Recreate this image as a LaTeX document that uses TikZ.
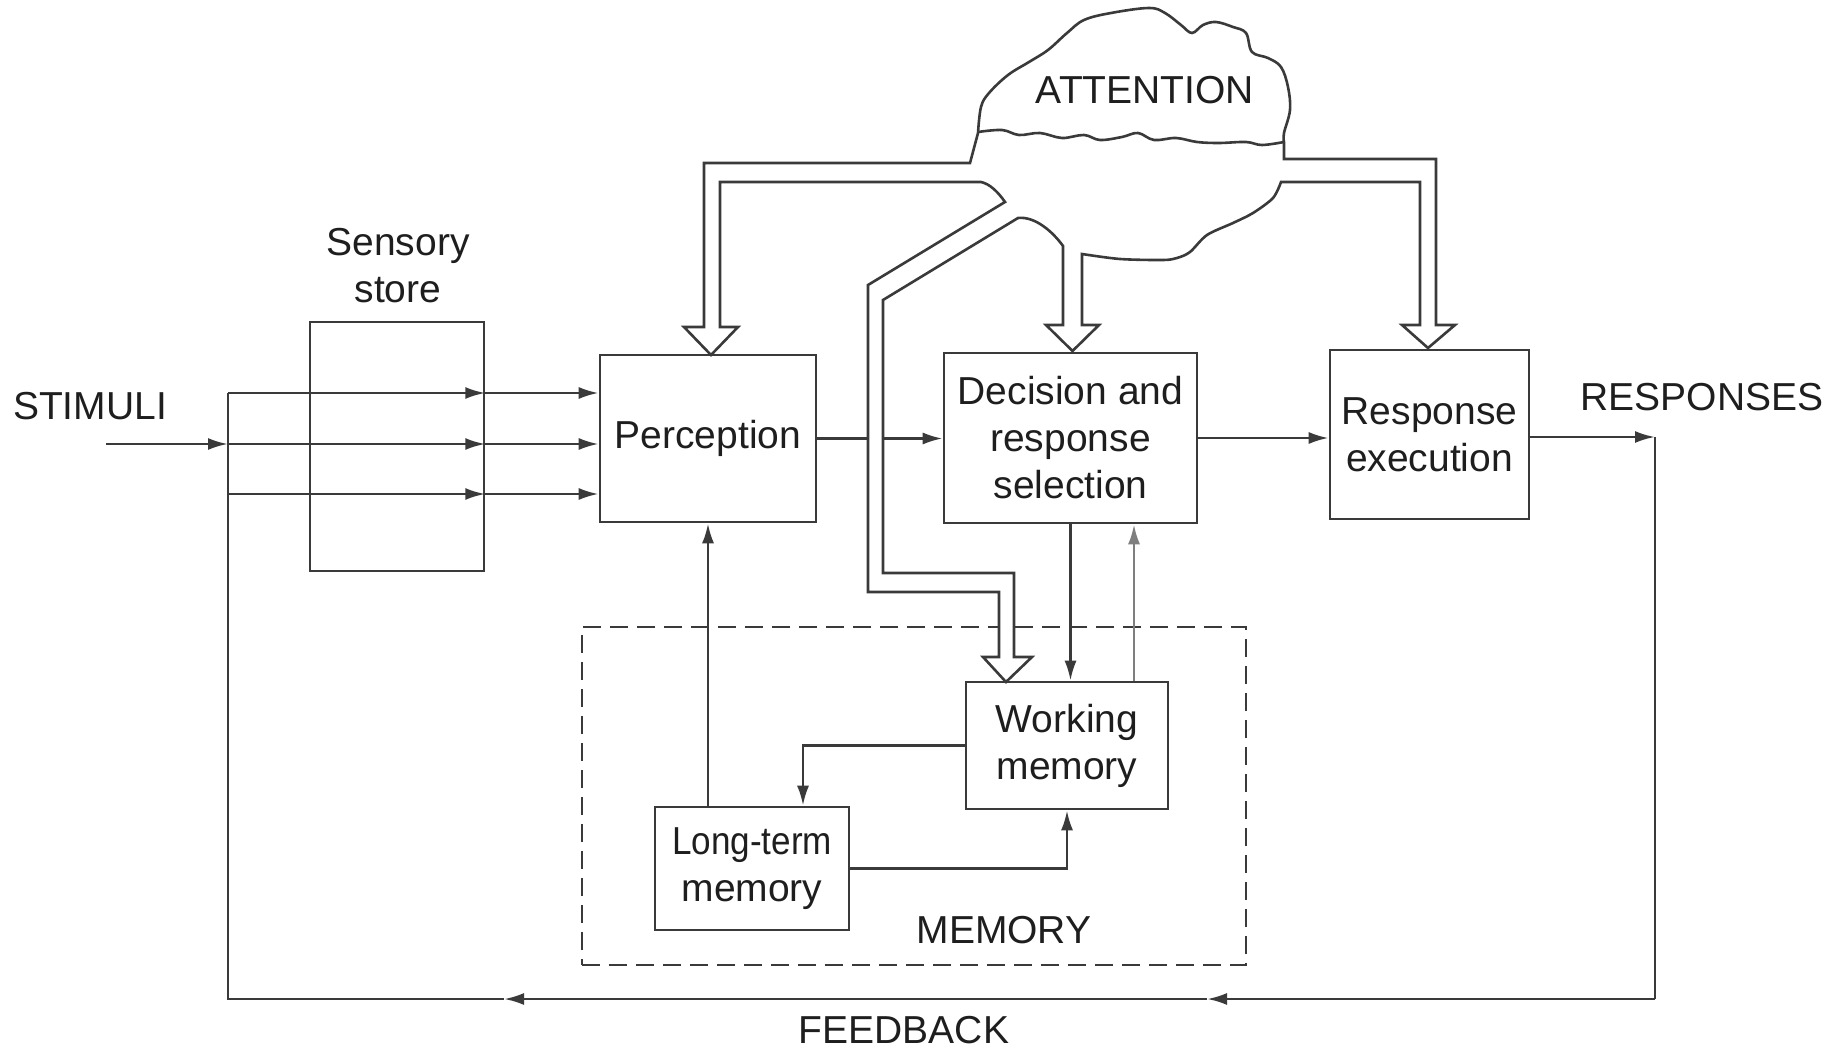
\documentclass[tikz,border=0pt]{standalone}
\usepackage{fontspec}
\setmainfont{Liberation Sans}
\usepackage{graphicx}
\usetikzlibrary{arrows.meta,calc}
\definecolor{lc}{HTML}{3A3A3A}
\definecolor{txt}{HTML}{1E1E1E}
\begin{document}
\begin{tikzpicture}[x=1pt,y=-1pt,
  ln/.style={line width=2.6pt,draw=lc},
  arr/.style={ln,-{Latex[length=20pt,width=12pt]}},
  box/.style={ln,rectangle,inner sep=0pt,align=center,text=txt,font=\fontsize{39}{47}\selectfont},
  lbl/.style={font=\fontsize{39}{47}\selectfont,text=txt,align=center,inner sep=0pt},
  cloudln/.style={line width=2.6pt,draw=lc,fill=white,line join=miter}]
\useasboundingbox (0,0) rectangle (1837,1048);

% dashed memory region
\node[ln,dash pattern=on 18pt off 9pt,rectangle,inner sep=0pt,minimum width=664pt,minimum height=338pt] (mem) at (914,796) {};
\node[lbl] (memlbl) at (1004,930) {MEMORY};

% boxes
\node[box,minimum width=174pt,minimum height=249pt] (sens) at (397,446.5) {};
\node[lbl] (senslbl) at (398,266) {Sensory\\store};
\node[box,minimum width=216pt,minimum height=167pt] (perc) at (708,438.5) {Perception};
\node[box,minimum width=253pt,minimum height=170pt] (dec) at (1070.5,438) {Decision and\\response\\selection};
\node[box,minimum width=199pt,minimum height=169pt] (resp) at (1429.5,434.5) {Response\\execution};
\node[box,minimum width=202pt,minimum height=127pt] (wm) at (1067,745.5) {Working\\memory};
\node[box,minimum width=194pt,minimum height=123pt] (ltm) at (752,868.5) {\scalebox{0.9}[1]{Long-term}\\memory};

% labels
\node[lbl] (stim) at (90,406) {STIMULI};
\node[lbl] (resplbl) at (1702,397) {RESPONSES};
\node[lbl] (fblbl) at (904,1030) {FEEDBACK};

% input lines
\coordinate (in) at (106,444);
\coordinate (j) at (228,444);
\coordinate (jt) at (228,393);
\coordinate (jb) at (228,494);
\draw[arr] (in) -- (j);
\draw[ln] (jt) -- (jb);
\foreach \c in {jt,j,jb}{
  \draw[arr] (\c) -- (\c -| sens.east);
  \draw[arr] (\c -| sens.east) -- (\c -| perc.west);
}

% main flow
\draw[arr] (perc.east) -- (perc.east -| dec.west);
\draw[arr] (dec.east) -- (dec.east -| resp.west);
\coordinate (rout) at (1655,437);
\draw[arr] (rout -| resp.east) -- (rout);

% feedback
\coordinate (fbr) at (1655,999);
\coordinate (fb1) at (1207,999);
\coordinate (fb2) at (504,999);
\coordinate (fbl) at (228,999);
\draw[ln] (rout) -- (fbr);
\draw[arr] (fbr) -- (fb1);
\draw[arr] (fb1) -- (fb2);
\draw[ln,line join=miter] (fb2) -- (fbl) -- (jt);

% memory connections
\draw[arr] (ltm.north -| perc.center) -- (perc.south);
\draw[arr] (dec.south) -- (dec.south |- wm.north);
\draw[arr,draw=lc!65] ($(wm.north)+(67,0)$) -- ($(dec.south)+(63.5,0)$);
\draw[arr] (wm.west) -| ($(ltm.north)+(51,0)$);
\draw[arr] (ltm.east) -| (wm.south);

% attention cloud with hollow arrows
\draw[cloudln] plot[smooth,tension=0.6] coordinates {(978,133) (981,107) (989,93) (1008,75) (1029,62) (1048,50) (1067,33) (1084,20) (1111,13) (1149,8) (1165,13) (1181,25) (1192,33) (1203,25) (1216,22) (1233,27) (1246,33) (1252,52) (1268,58) (1281,67) (1288,87) (1290,110) (1284,133) (1284,142)}
 -- (1284,159) -- (1436,159) -- (1436,325) -- (1455,325) -- (1428,348) -- (1402,325) -- (1420,325) -- (1420,182) -- (1281,182)
 -- plot[smooth,tension=0.5] coordinates {(1281,182) (1273,198) (1253,213) (1233,223) (1207,235) (1190,252) (1177,258) (1163,260) (1120,259) (1082,254)}
 -- (1082,325) -- (1099,325) -- (1072.5,351) -- (1046,325) -- (1063,325) -- (1063,246)
 .. controls (1053,232) and (1035,216) .. (1018,218)
 -- (883,300) -- (883,573) -- (1014,573) -- (1014,657) -- (1032,657) -- (1006,682) -- (983,657) -- (999,657) -- (999,592) -- (868,592) -- (868,285) -- (1005,202)
 .. controls (998,192) and (990,184) .. (981,182)
 -- (720,182) -- (720,327) -- (738,327) -- (711,355) -- (684,327) -- (704,327) -- (704,163) -- (970,163) -- cycle;
\draw[ln] plot[smooth,tension=0.6] coordinates {(978,132) (1002,130) (1019,135) (1040,133) (1062,138) (1084,135) (1100,140) (1122,137) (1138,133) (1154,140) (1176,138) (1197,142) (1219,143) (1246,142) (1262,145) (1284,142)};
\node[lbl] (att) at (1145,90) {ATTENTION};
\end{tikzpicture}
\end{document}
